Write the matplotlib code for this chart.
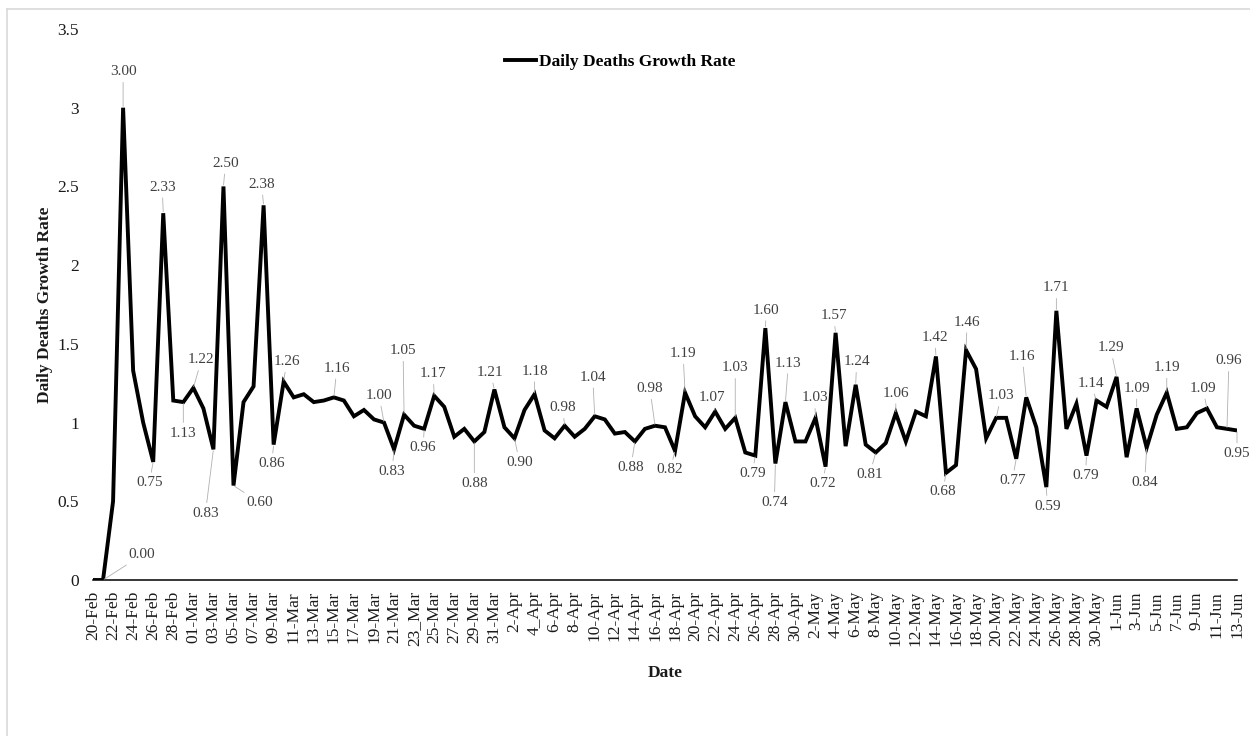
import matplotlib
matplotlib.use("Agg")
import matplotlib.pyplot as plt
from matplotlib.lines import Line2D
import numpy as np

# ─── data: daily deaths growth rate, 20-Feb .. 13-Jun (one value per day) ─────
RATE = [
    0.00, 0.00, 0.50, 3.00, 1.33, 1.00, 0.75, 2.33, 1.14, 1.13,   # 20-Feb .. 29-Feb
    1.22, 1.09, 0.83, 2.50, 0.60, 1.13, 1.23, 2.38, 0.86, 1.26,   # 01-Mar .. 10-Mar
    1.16, 1.18, 1.13, 1.14, 1.16, 1.14, 1.04, 1.08, 1.02, 1.00,   # 11-Mar .. 20-Mar
    0.83, 1.05, 0.98, 0.96, 1.17, 1.10, 0.91, 0.96, 0.88, 0.94,   # 21-Mar .. 30-Mar
    1.21, 0.97, 0.90, 1.08, 1.18, 0.95, 0.90, 0.98, 0.91, 0.96,   # 31-Mar .. 9-Apr
    1.04, 1.02, 0.93, 0.94, 0.88, 0.96, 0.98, 0.97, 0.82, 1.19,   # 10-Apr .. 19-Apr
    1.04, 0.97, 1.07, 0.96, 1.03, 0.81, 0.79, 1.60, 0.74, 1.13,   # 20-Apr .. 29-Apr
    0.88, 0.88, 1.03, 0.72, 1.57, 0.85, 1.24, 0.86, 0.81, 0.87,   # 30-Apr .. 9-May
    1.06, 0.88, 1.07, 1.04, 1.42, 0.68, 0.73, 1.46, 1.34, 0.90,   # 10-May .. 19-May
    1.03, 1.03, 0.77, 1.16, 0.97, 0.59, 1.71, 0.96, 1.12, 0.79,   # 20-May .. 29-May
    1.14, 1.10, 1.29, 0.78, 1.09, 0.84, 1.05, 1.19, 0.96, 0.97,   # 30-May .. 8-Jun
    1.06, 1.09, 0.97, 0.96, 0.95,                                 # 9-Jun .. 13-Jun
]

# every second day gets a category label
TICK_LABELS = [
    "20-Feb", "22-Feb", "24-Feb", "26-Feb", "28-Feb",
    "01-Mar", "03-Mar", "05-Mar", "07-Mar", "09-Mar", "11-Mar", "13-Mar", "15-Mar",
    "17-Mar", "19-Mar", "21-Mar", "23_Mar", "25-Mar", "27-Mar", "29-Mar", "31-Mar",
    "2-Apr", "4_Apr", "6-Apr", "8-Apr", "10-Apr", "12-Apr", "14-Apr", "16-Apr",
    "18-Apr", "20-Apr", "22-Apr", "24-Apr", "26-Apr", "28-Apr", "30-Apr",
    "2-May", "4-May", "6-May", "8-May", "10-May", "12-May", "14-May", "16-May",
    "18-May", "20-May", "22-May", "24-May", "26-May", "28-May", "30-May",
    "1-Jun", "3-Jun", "5-Jun", "7-Jun", "9-Jun", "11-Jun", "13-Jun",
]

# which days carry a value label
LABELLED = [1, 3, 6, 7, 9, 10, 12, 13, 14, 17, 18, 19, 24, 29, 30, 31, 33, 34,
            38, 40, 42, 44, 47, 50, 54, 56, 58, 59, 62, 64, 66, 67, 68, 69, 72,
            73, 74, 76, 78, 80, 84, 85, 87, 90, 92, 93, 95, 96, 99, 100, 102,
            104, 105, 107, 111, 113, 114]

# ─── label placement (pixel offsets: right, down) ─────────────────────────────
LABEL_OFFSET = {
    1: (39, -25), 3: (0, -36), 6: (-4, 21), 7: (-1, -26), 9: (0, 31),
    10: (8, -28), 12: (-8, 64), 13: (2, -23), 14: (26, 17), 17: (-2, -21),
    18: (-2, 19), 19: (3, -20), 24: (3, -29), 29: (-5, -27), 30: (-2, 22),
    31: (-1, -64), 33: (-1, 19), 34: (-1, -22), 38: (0, 42), 40: (-4, -17),
    42: (5, 24), 44: (0, -23), 47: (-2, -18), 50: (-2, -39), 54: (-4, 26),
    56: (-5, -37), 58: (-5, 19), 59: (-2, -39), 62: (-3, -14), 64: (0, -50),
    66: (-3, 18), 67: (1, -18), 68: (-1, 39), 69: (3, -39), 72: (-1, -20),
    73: (-3, 17), 74: (-2, -17), 76: (1, -23), 78: (-6, 22), 80: (0, -20),
    84: (-1, -19), 85: (-3, 19), 87: (1, -28), 90: (5, -22), 92: (-4, 22),
    93: (-4, -41), 95: (1, 19), 96: (0, -23), 99: (-1, 20), 100: (-6, -17),
    102: (-6, -29), 104: (0, -20), 105: (-2, 35), 107: (0, -25), 111: (-4, -20),
    113: (2, -68), 114: (0, 23),
}

FONT = "Liberation Serif"
C_TEXT = "#1a1a1a"
C_LABEL = "#404040"
C_LEADER = "#b0b0b0"
C_BORDER = "#d9d9d9"

plt.rcParams["font.family"] = FONT

W, H = 1250, 736
fig = plt.figure(figsize=(W / 100, H / 100), dpi=100, facecolor="white")
ax = fig.add_axes([93 / W, 1 - 580 / H, (1237 - 93) / W, (580 - 29) / H])

x = np.arange(len(RATE))
line, = ax.plot(x, RATE, color="black", lw=2.8, solid_joinstyle="miter",
                label="Daily Deaths Growth Rate", zorder=3)

# value labels with thin leader lines
for i in LABELLED:
    dx, dy = LABEL_OFFSET[i]
    ax.annotate(f"{RATE[i]:.2f}", xy=(x[i], RATE[i]), xytext=(dx, -dy),
                textcoords="offset pixels", ha="center", va="center",
                fontsize=11, color=C_LABEL, zorder=4,
                arrowprops=dict(arrowstyle="-", color=C_LEADER, lw=0.6,
                                shrinkA=1, shrinkB=1))

ax.set_xlim(0, len(RATE) - 1)
ax.set_ylim(0, 3.5)
ax.set_yticks(np.arange(0, 3.51, 0.5))
ax.set_yticklabels(["0", "0.5", "1", "1.5", "2", "2.5", "3", "3.5"])
ax.set_xticks(x[::2])
ax.set_xticklabels(TICK_LABELS, rotation=90)
ax.tick_params(axis="y", length=0, pad=10, labelsize=12.5, labelcolor=C_TEXT)
ax.tick_params(axis="x", length=0, pad=8, labelsize=12.5, labelcolor=C_TEXT)

for s in ["top", "right", "left"]:
    ax.spines[s].set_visible(False)
ax.spines["bottom"].set_color("black")
ax.spines["bottom"].set_linewidth(1.1)

ax.set_ylabel("Daily Deaths Growth Rate", fontsize=12.5, fontweight="bold",
              color=C_TEXT)
ax.yaxis.set_label_coords(-40 / (1237 - 93), 0.5)
ax.set_xlabel("Date", fontsize=12.5, fontweight="bold", color=C_TEXT)
ax.xaxis.set_label_coords(0.5, -(665 - 580) / (580 - 29))

fig.legend(handles=[line], loc="center", bbox_to_anchor=(620 / W, 1 - 62 / H),
           frameon=False, prop=dict(family=FONT, weight="bold", size=12.5),
           handlelength=1.8, handletextpad=0.15)

# chart-area border (top and left edges)
fig.add_artist(Line2D([7 / W, 7 / W], [0, 1 - 9 / H], color=C_BORDER, lw=1.2))
fig.add_artist(Line2D([7 / W, 1], [1 - 9 / H, 1 - 9 / H], color=C_BORDER, lw=1.2))

fig.savefig("out.png", dpi=100, facecolor="white")
